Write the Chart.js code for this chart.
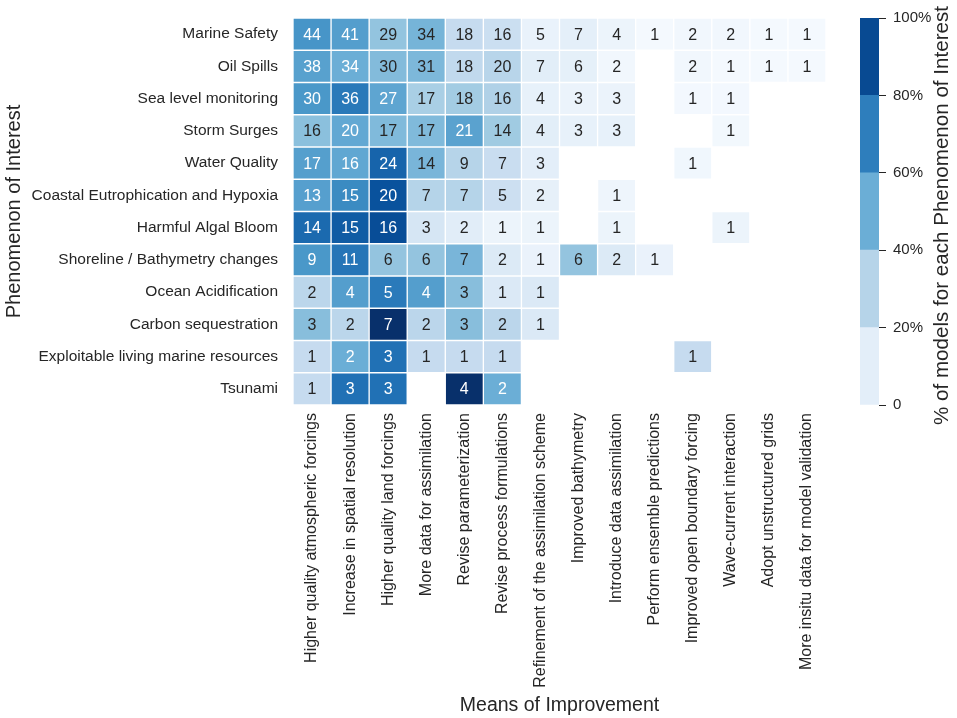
<!DOCTYPE html>
<html lang="en">
  <head>
    <meta charset="UTF-8" />
    <title>Means of Improvement vs Phenomenon of Interest</title>
    <style>
      html,
      body {
        margin: 0;
        padding: 0;
        background: #ffffff;
      }
      #wrap {
        position: relative;
        width: 957px;
        height: 718px;
      }
      #heatBox {
        position: absolute;
        left: 0;
        top: 0;
        width: 957px;
        height: 718px;
      }
      #barBox {
        position: absolute;
        left: 840px;
        top: 0;
        width: 117px;
        height: 718px;
      }
    </style>
    <script src="https://cdn.jsdelivr.net/npm/chart.js"></script>
  </head>
  <body>
    <div id="wrap">
      <div id="heatBox"><canvas id="heat"></canvas></div>
      <div id="barBox"><canvas id="colorbar"></canvas></div>
    </div>

    <script>
      // filas (de arriba a abajo)
      const phenomena = [
        "Marine Safety",
        "Oil Spills",
        "Sea level monitoring",
        "Storm Surges",
        "Water Quality",
        "Coastal Eutrophication and Hypoxia",
        "Harmful Algal Bloom",
        "Shoreline / Bathymetry changes",
        "Ocean Acidification",
        "Carbon sequestration",
        "Exploitable living marine resources",
        "Tsunami",
      ];

      // columnas
      const means = [
        "Higher quality atmospheric forcings",
        "Increase in spatial resolution",
        "Higher quality land forcings",
        "More data for assimilation",
        "Revise parameterization",
        "Revise process formulations",
        "Refinement of the assimilation scheme",
        "Improved bathymetry",
        "Introduce data assimilation",
        "Perform ensemble predictions",
        "Improved open boundary forcing",
        "Wave-current interaction",
        "Adopt unstructured grids",
        "More insitu data for model validation",
      ];

      // numero de modelos por celda (null = vacio)
      const counts = [
        [44, 41, 29, 34, 18, 16, 5, 7, 4, 1, 2, 2, 1, 1],
        [38, 34, 30, 31, 18, 20, 7, 6, 2, null, 2, 1, 1, 1],
        [30, 36, 27, 17, 18, 16, 4, 3, 3, null, 1, 1, null, null],
        [16, 20, 17, 17, 21, 14, 4, 3, 3, null, null, 1, null, null],
        [17, 16, 24, 14, 9, 7, 3, null, null, null, 1, null, null, null],
        [13, 15, 20, 7, 7, 5, 2, null, 1, null, null, null, null, null],
        [14, 15, 16, 3, 2, 1, 1, null, 1, null, null, 1, null, null],
        [9, 11, 6, 6, 7, 2, 1, 6, 2, 1, null, null, null, null],
        [2, 4, 5, 4, 3, 1, 1, null, null, null, null, null, null, null],
        [3, 2, 7, 2, 3, 2, 1, null, null, null, null, null, null, null],
        [1, 2, 3, 1, 1, 1, null, null, null, null, 1, null, null, null],
        [1, 3, 3, null, 4, 2, null, null, null, null, null, null, null, null],
      ];

      // total estimado de modelos por fenomeno (para el % del color)
      const modelsPerPhenomenon = [72, 68, 50, 38, 30, 23, 18, 15, 7, 7, 4, 4];

      // barra de color: 5 bandas de 20%
      const colorbarBands = [20, 20, 20, 20, 20];
      const colorbarTicks = [0, 20, 40, 60, 80, 100];

      const FONT = "'Liberation Sans', Arial, sans-serif";
      const DARK = "#262626";

      // paleta "Blues"
      const bluesStops = [
        "#f7fbff", "#deebf7", "#c6dbef", "#9ecae1", "#6baed6",
        "#4292c6", "#2171b5", "#08519c", "#08306b",
      ];

      function hexToRgb(h) {
        return [1, 3, 5].map((i) => parseInt(h.substr(i, 2), 16));
      }

      function blues(t) {
        t = Math.max(0, Math.min(1, t));
        const pos = t * (bluesStops.length - 1);
        const i = Math.min(Math.floor(pos), bluesStops.length - 2);
        const f = pos - i;
        const a = hexToRgb(bluesStops[i]);
        const b = hexToRgb(bluesStops[i + 1]);
        const c = a.map((v, k) => Math.round(v + (b[k] - v) * f));
        return `rgb(${c[0]}, ${c[1]}, ${c[2]})`;
      }

      function luminance(t) {
        const m = blues(t).match(/\d+/g).map(Number);
        const lin = m.map((v) => {
          v = v / 255;
          return v <= 0.03928 ? v / 12.92 : Math.pow((v + 0.055) / 1.055, 2.4);
        });
        return 0.2126 * lin[0] + 0.7152 * lin[1] + 0.0722 * lin[2];
      }

      function share(r, c) {
        return counts[r][c] / modelsPerPhenomenon[r];
      }

      Chart.defaults.font.family = FONT;
      Chart.defaults.color = DARK;

      // cada fila es un dataset apilado de altura 1
      const heatDatasets = phenomena.map((name, r) => ({
        label: name,
        data: means.map(() => 1),
        backgroundColor: means.map((_, c) =>
          counts[r][c] == null ? "rgba(0,0,0,0)" : blues(share(r, c))
        ),
        borderColor: "#ffffff",
        borderWidth: 1,
        borderSkipped: false,
        barPercentage: 1,
        categoryPercentage: 1,
      }));

      // numeros dentro de las celdas
      const cellLabels = {
        id: "cellLabels",
        afterDatasetsDraw(chart) {
          const ctx = chart.ctx;
          ctx.save();
          ctx.font = `16px ${FONT}`;
          ctx.textAlign = "center";
          ctx.textBaseline = "middle";
          phenomena.forEach((_, r) => {
            const meta = chart.getDatasetMeta(r);
            meta.data.forEach((bar, c) => {
              const v = counts[r][c];
              if (v == null) return;
              ctx.fillStyle = luminance(share(r, c)) > 0.408 ? DARK : "#ffffff";
              ctx.fillText(String(v), bar.x, (bar.y + bar.base) / 2 + 1);
            });
          });
          ctx.restore();
        },
      };

      new Chart(document.getElementById("heat"), {
        type: "bar",
        data: { labels: means, datasets: heatDatasets },
        plugins: [cellLabels],
        options: {
          responsive: true,
          maintainAspectRatio: false,
          animation: false,
          layout: { padding: { top: 18, right: 131, bottom: 0, left: 0 } },
          plugins: {
            legend: { display: false },
            tooltip: { enabled: false },
          },
          scales: {
            x: {
              stacked: true,
              grid: { display: false, drawTicks: false },
              border: { display: false },
              ticks: {
                autoSkip: false,
                maxRotation: 90,
                minRotation: 90,
                padding: 8,
                color: DARK,
                font: { size: 16 },
              },
              title: {
                display: true,
                text: "Means of Improvement",
                color: DARK,
                font: { size: 19.5 },
                padding: { top: 4, bottom: 1 },
              },
              afterFit(scale) {
                scale.height = 313;
              },
            },
            y: {
              type: "linear",
              stacked: true,
              reverse: true,
              min: 0,
              max: phenomena.length,
              grid: { display: false, drawTicks: false },
              border: { display: false },
              afterBuildTicks(scale) {
                scale.ticks = phenomena.map((_, i) => ({ value: i + 0.5 }));
              },
              ticks: {
                autoSkip: false,
                padding: 15,
                color: DARK,
                font: { size: 15.5 },
                callback: (value, index) => phenomena[index],
              },
              title: {
                display: true,
                text: "Phenomenon of Interest",
                color: DARK,
                font: { size: 20 },
                padding: { top: 2, bottom: 4 },
              },
              afterFit(scale) {
                scale.width = 293;
                scale.paddingTop = 0;
                scale.paddingBottom = 0;
              },
            },
          },
        },
      });

      // titulo de la barra de color (leido de abajo hacia arriba)
      const colorbarTitle = {
        id: "colorbarTitle",
        afterDraw(chart) {
          const ctx = chart.ctx;
          const a = chart.chartArea;
          ctx.save();
          ctx.translate(102, (a.top + a.bottom) / 2 + 4);
          ctx.rotate(-Math.PI / 2);
          ctx.font = `20.6px ${FONT}`;
          ctx.fillStyle = DARK;
          ctx.textAlign = "center";
          ctx.textBaseline = "middle";
          ctx.fillText("% of models for each Phenomenon of Interest", 0, 0);
          ctx.restore();
        },
      };

      new Chart(document.getElementById("colorbar"), {
        type: "bar",
        data: {
          labels: [""],
          datasets: colorbarBands.map((w, i) => ({
            data: [w],
            backgroundColor: blues((colorbarTicks[i] + colorbarTicks[i + 1]) / 200),
            borderWidth: 0,
            barPercentage: 1,
            categoryPercentage: 1,
          })),
        },
        plugins: [colorbarTitle],
        options: {
          responsive: true,
          maintainAspectRatio: false,
          animation: false,
          layout: { padding: { top: 18, right: 0, bottom: 313, left: 20 } },
          plugins: {
            legend: { display: false },
            tooltip: { enabled: false },
          },
          scales: {
            x: { display: false, stacked: true },
            y: {
              position: "right",
              stacked: true,
              min: 0,
              max: 100,
              border: { display: false },
              grid: {
                drawOnChartArea: false,
                drawTicks: true,
                tickLength: 7,
                color: DARK,
                lineWidth: 1,
              },
              afterBuildTicks(scale) {
                scale.ticks = colorbarTicks.map((v) => ({ value: v }));
              },
              ticks: {
                padding: 7,
                color: DARK,
                font: { size: 15 },
                callback: (v) => (v === 0 ? "0" : v + "%"),
              },
              afterFit(scale) {
                scale.width = 78;
              },
            },
          },
        },
      });
    </script>
  </body>
</html>
